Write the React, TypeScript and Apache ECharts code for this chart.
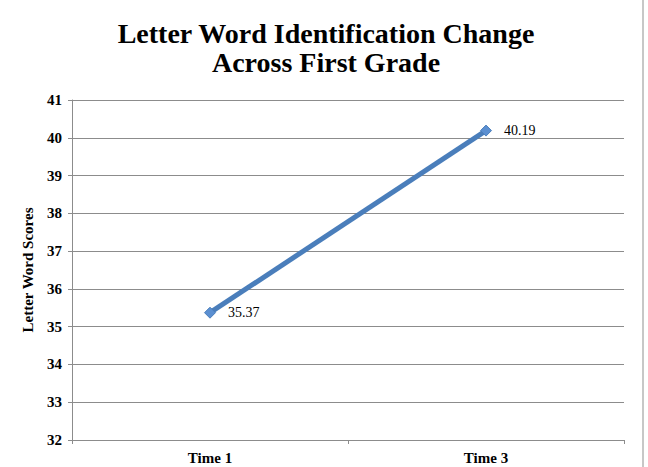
import React, { useEffect, useRef } from "react";
import * as echarts from "echarts";

const titleLines = ["Letter Word Identification Change", "Across First Grade"];
const categories = ["Time 1", "Time 3"];
const scores = [35.37, 40.19];
const yAxisName = "Letter Word Scores";
const yMin = 32;
const yMax = 41;

export default function App() {
  const ref = useRef<HTMLDivElement>(null);
  useEffect(() => {
    document.body.style.margin = "0";
    const chart = echarts.init(ref.current!, null, { renderer: "svg" });
    const serif = "'Liberation Serif', 'DejaVu Serif', serif";
    chart.setOption({
      animation: false,
      backgroundColor: "#ffffff",
      title: {
        text: titleLines.join("\n"),
        left: 321,
        top: 14,
        textAlign: "center",
        textStyle: {
          fontFamily: serif,
          fontWeight: "bold",
          fontSize: 28,
          lineHeight: 29,
          color: "#000",
        },
      },
      grid: { left: 72, right: 24, top: 100, bottom: 27, containLabel: false },
      xAxis: {
        type: "category",
        data: categories,
        boundaryGap: true,
        axisLine: { lineStyle: { color: "#8c8c8c", width: 1 } },
        axisTick: { show: true, length: 4, lineStyle: { color: "#8c8c8c" } },
        axisLabel: {
          fontFamily: serif,
          fontWeight: "bold",
          fontSize: 15,
          color: "#000",
          margin: 10,
        },
      },
      yAxis: {
        type: "value",
        min: yMin,
        max: yMax,
        interval: 1,
        name: yAxisName,
        nameLocation: "middle",
        nameGap: 37,
        nameRotate: 90,
        nameTextStyle: {
          fontFamily: serif,
          fontWeight: "bold",
          fontSize: 15,
          color: "#000",
        },
        axisLine: { show: true, lineStyle: { color: "#8c8c8c", width: 1 } },
        axisTick: { show: true, length: 4, lineStyle: { color: "#8c8c8c" } },
        axisLabel: {
          fontFamily: serif,
          fontWeight: "bold",
          fontSize: 15,
          color: "#000",
          margin: 10,
        },
        splitLine: { show: true, lineStyle: { color: "#8c8c8c", width: 1 } },
      },
      series: [
        {
          type: "line",
          data: scores,
          symbol: "diamond",
          symbolSize: 11,
          lineStyle: { color: "#4a7ebb", width: 5 },
          itemStyle: { color: "#5b8fd1", borderColor: "#4a7ebb", borderWidth: 1 },
          label: {
            show: true,
            position: "right",
            distance: 12,
            formatter: (p: any) => p.value.toFixed(2),
            fontFamily: serif,
            fontSize: 14,
            color: "#000",
          },
        },
      ],
      graphic: [
        {
          type: "line",
          shape: { x1: 643, y1: 0, x2: 643, y2: 467 },
          style: { stroke: "#b5b5b5", lineWidth: 1.5 },
        },
      ],
    });
    return () => chart.dispose();
  }, []);
  return <div ref={ref} style={{ width: 648, height: 467 }} />;
}
